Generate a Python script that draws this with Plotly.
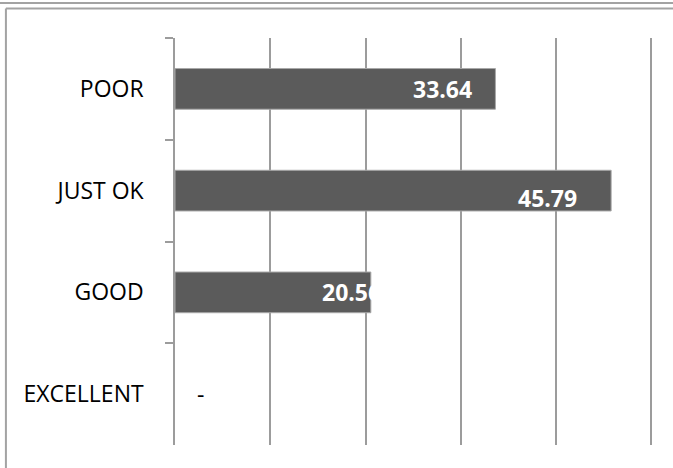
import plotly.graph_objects as go

categories = ["POOR", "JUST OK", "GOOD", "EXCELLENT"]
values = [33.64, 45.79, 20.56, 0.0]
x_ticks = [0, 10, 20, 30, 40, 50]

# label nudges (pixels), a style detail of the reference
label_dx = [-21, -32, 12, 20]
label_dy = [0, -7, 0, 0]

W, H = 673, 468
X_MAX = 50.5
UNIT = 476 / 50          # pixels per value unit in the reference
PX0, PY0, PY1 = 175, 38, 445
PX1 = PX0 + X_MAX * UNIT

def px(x):
    return (x - PX0) / (PX1 - PX0)

def py(y):
    return (PY1 - y) / (PY1 - PY0)

FONT = "Open Sans"
GRID = "#9c9c9c"
FS = 23

fig = go.Figure()
fig.add_trace(go.Bar(
    y=categories, x=values, orientation="h",
    marker=dict(color="#5b5b5b",
                line=dict(color="#a8a8a8", width=[1 if v > 0 else 0 for v in values])),
    hoverinfo="skip",
))

for i, (c, v) in enumerate(zip(categories, values)):
    if v > 0:
        fig.add_annotation(x=v, y=c, xref="x", yref="y", text=f"<b>{v:.2f}</b>",
                           showarrow=False, xanchor="right", yanchor="middle",
                           xshift=label_dx[i], yshift=label_dy[i],
                           font=dict(family=FONT, size=FS, color="white"))
    else:
        fig.add_annotation(x=v, y=c, xref="x", yref="y", text="-",
                           showarrow=False, xanchor="left", yanchor="middle",
                           xshift=label_dx[i], yshift=label_dy[i],
                           font=dict(family=FONT, size=FS, color="black"))

line = dict(color="#a3a3a3", width=2)
fig.add_shape(type="line", xref="paper", yref="paper", x0=px(0), x1=px(W), y0=py(3), y1=py(3), line=line)
fig.add_shape(type="line", xref="paper", yref="paper", x0=px(6), x1=px(W), y0=py(8.5), y1=py(8.5), line=line)
fig.add_shape(type="line", xref="paper", yref="paper", x0=px(6), x1=px(6), y0=py(8.5), y1=py(H), line=line)

fig.update_layout(
    width=W, height=H,
    margin=dict(l=PX0, r=W - PX1, t=PY0, b=H - PY1, pad=0),
    paper_bgcolor="white", plot_bgcolor="white",
    bargap=0.6, showlegend=False,
    font=dict(family=FONT, size=FS, color="black"),
    xaxis=dict(range=[0, X_MAX], tickvals=x_ticks, showticklabels=False,
               showgrid=True, gridcolor=GRID, gridwidth=1.5,
               zeroline=False, showline=False, ticks=""),
    yaxis=dict(autorange="reversed", showgrid=False, zeroline=False,
               showline=True, linecolor=GRID, linewidth=1.5,
               ticks="outside", ticklen=8, tickcolor=GRID, tickwidth=1.5,
               tickson="boundaries", ticklabelstandoff=25,
               tickfont=dict(family=FONT, size=FS, color="black")),
)

fig.write_html("out.html", config={"displayModeBar": False},
               post_script="document.body.style.margin='0';document.body.style.overflow='hidden';")
